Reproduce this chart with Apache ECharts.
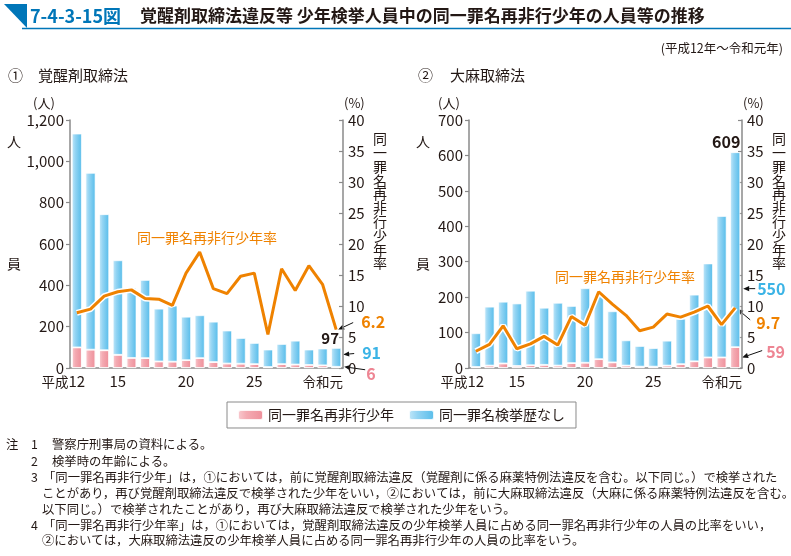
<!DOCTYPE html>
<html><head><meta charset="utf-8">
<script src="https://cdn.jsdelivr.net/npm/echarts@6/dist/echarts.min.js"></script>
<style>html,body{margin:0;padding:0;background:#fff}#c{width:791px;height:556px}</style>
</head><body><div id="c"></div>
<script>
const years = ['平成12','13','14','15','16','17','18','19','20','21','22','23','24','25','26','27','28','29','30','令和元'];
const shownTicks = [0, 3, 8, 13, 19];
// ① 覚醒剤取締法
const stimPink = [100, 89, 86, 64, 49, 48, 32, 31, 38, 48, 29, 22, 21, 19, 5, 19, 17, 15, 13, 6];
const stimBlue = [1034, 855, 658, 457, 338, 378, 255, 271, 210, 207, 195, 159, 124, 102, 84, 97, 115, 74, 81, 91];
const stimRate = [8.9, 9.5, 11.6, 12.3, 12.6, 11.2, 11.1, 10.1, 15.3, 18.7, 12.8, 12.0, 14.8, 15.3, 5.4, 16.0, 12.5, 16.5, 13.5, 6.2];
// ② 大麻取締法
const canPink = [3, 7, 13, 6, 8, 9, 7, 14, 15, 25, 16, 7, 4, 4, 7, 11, 19, 30, 30, 59];
const canBlue = [95, 166, 174, 176, 210, 161, 177, 161, 210, 182, 144, 71, 58, 52, 70, 128, 188, 265, 399, 550];
const canRate = [2.7, 3.8, 6.8, 3.1, 3.9, 5.1, 3.7, 8.3, 6.9, 12.3, 10.3, 8.5, 6.0, 6.6, 8.7, 8.2, 9.0, 10.0, 7.0, 9.7];

const FONT = '"Noto Sans CJK JP","Noto Sans",sans-serif';
const TXT = '#231815';
const AX = '#8a8a8a';
const ORANGE = '#ef8200';
const BLUE_T = '#3cb4e6';
const PINK_T = '#ee8593';
const names = ['同一罪名再非行少年', '同一罪名検挙歴なし'];

const blueGrad = new echarts.graphic.LinearGradient(0, 0, 1, 0, [
  {offset: 0, color: '#c4e8f9'}, {offset: 0.35, color: '#93d4f3'}, {offset: 1, color: '#55bcea'}]);
const pinkGrad = new echarts.graphic.LinearGradient(0, 0, 1, 0, [
  {offset: 0, color: '#f9cdd2'}, {offset: 0.35, color: '#f4aab2'}, {offset: 1, color: '#ee8e99'}]);

function xAxisDef(gi) {
  return {
    type: 'category', gridIndex: gi, data: years,
    axisLine: {lineStyle: {color: AX, width: 1.5}},
    axisTick: {show: false},
    axisLabel: {
      interval: (i) => shownTicks.includes(i), margin: 6, color: TXT,
      fontFamily: FONT, fontSize: 15,
      formatter: (v, i) => {
        if (i === 0) return '{k|平成}{n|12}{s|}';
        if (i === 19) return '{k|令和元}{t|}';
        return '{n|' + v + '}';
      },
      rich: {
        k: {fontFamily: FONT, fontSize: 13.5, color: TXT},
        n: {fontFamily: FONT, fontSize: 15, color: TXT},
        s: {width: 27},
        t: {width: 27}
      }
    }
  };
}
function countAxis(gi, max, interval) {
  return {
    type: 'value', gridIndex: gi, min: 0, max: max, interval: interval, position: 'left',
    axisLine: {show: true, lineStyle: {color: AX, width: 1.5}},
    axisTick: {show: true, length: 4, lineStyle: {color: AX, width: 1.2}},
    splitLine: {show: false},
    axisLabel: {color: TXT, fontFamily: FONT, fontSize: 15, margin: 6}
  };
}
function rateAxis(gi) {
  return {
    type: 'value', gridIndex: gi, min: 0, max: 40, interval: 5, position: 'right',
    axisLine: {show: true, lineStyle: {color: AX, width: 1.5}},
    axisTick: {show: true, inside: true, length: 4, lineStyle: {color: AX, width: 1.2}},
    splitLine: {show: false},
    axisLabel: {color: TXT, fontFamily: FONT, fontSize: 15, margin: 5}
  };
}
function barSeries(xi, yi, data, name, grad, totalLabel, off, fs) {
  return {
    type: 'bar', name: name, xAxisIndex: xi, yAxisIndex: yi, stack: 's' + xi, data: data,
    barWidth: 10,
    itemStyle: {color: grad, borderColor: 'rgba(255,255,255,0.85)', borderWidth: 0.8},
    label: totalLabel ? {
      show: true, position: 'top', offset: off, distance: 2,
      fontFamily: FONT, fontSize: fs, fontWeight: 'bold', color: TXT,
      formatter: (p) => p.dataIndex === data.length - 1 ? String(totalLabel[p.dataIndex] + data[p.dataIndex]) : ''
    } : {show: false},
    z: 2
  };
}
function lineSeries(xi, yi, data, halo) {
  return {
    type: 'line', xAxisIndex: xi, yAxisIndex: yi, data: data, showSymbol: false, silent: true,
    lineStyle: halo ? {color: '#ffffff', width: 6} : {color: ORANGE, width: 3},
    z: halo ? 3 : 4
  };
}

const chart = echarts.init(document.getElementById('c'), null, {renderer: 'canvas'});
const option = {
  animation: false,
  textStyle: {fontFamily: FONT},
  grid: [
    {left: 70, right: 448, top: 120, bottom: 188},
    {left: 469, right: 49, top: 120, bottom: 188}
  ],
  xAxis: [xAxisDef(0), xAxisDef(1)],
  yAxis: [countAxis(0, 1200, 200), rateAxis(0), countAxis(1, 700, 100), rateAxis(1)],
  legend: {
    data: names, left: 227, top: 402, orient: 'horizontal',
    itemWidth: 25, itemHeight: 10, itemGap: 14,
    padding: [6, 11, 6, 10], borderColor: '#8a8a8a', borderWidth: 1,
    textStyle: {fontFamily: FONT, fontSize: 14, color: TXT}
  },
  series: [
    barSeries(0, 0, stimPink, names[0], pinkGrad),
    barSeries(0, 0, stimBlue, names[1], blueGrad, stimPink, [-6, 0], 15),
    lineSeries(0, 1, stimRate, true),
    lineSeries(0, 1, stimRate, false),
    barSeries(1, 2, canPink, names[0], pinkGrad),
    barSeries(1, 2, canBlue, names[1], blueGrad, canPink, [-9, 0], 16),
    lineSeries(1, 3, canRate, true),
    lineSeries(1, 3, canRate, false)
  ]
};
chart.setOption(option);

function txt(x, y, s, o) {
  return Object.assign({type: 'text', x: x, y: y, style: Object.assign({
    text: s, fill: TXT, font: '14px ' + FONT, textAlign: 'left', textVerticalAlign: 'middle'}, o || {})});
}
function arrow(from, to) {
  const dx = to[0] - from[0], dy = to[1] - from[1];
  const L = Math.sqrt(dx * dx + dy * dy), ux = dx / L, uy = dy / L;
  const hl = 6, hw = 2.6;
  const bx = to[0] - ux * hl, by = to[1] - uy * hl;
  return [
    {type: 'line', shape: {x1: from[0], y1: from[1], x2: bx, y2: by}, style: {stroke: '#111', lineWidth: 1}},
    {type: 'polygon', shape: {points: [[to[0], to[1]], [bx - uy * hw, by + ux * hw], [bx + uy * hw, by - ux * hw]]}, style: {fill: '#111'}}
  ];
}
const last = years.length - 1;
const px = (xi, yi, v) => chart.convertToPixel({xAxisIndex: xi, yAxisIndex: yi}, [last, v]);

const g = [];
// title
g.push({type: 'polygon', shape: {points: [[4, 4], [27, 4], [27, 28]]}, style: {fill: '#0076b8'}});
g.push({type: 'line', shape: {x1: 22, y1: 28.5, x2: 791, y2: 28.5}, style: {stroke: '#0076b8', lineWidth: 1.5}});
g.push(txt(30, 16, '7-4-3-15図', {fill: '#0076b8', font: 'bold 18px ' + FONT}));
g.push(txt(140, 16, '覚醒剤取締法違反等 少年検挙人員中の同一罪名再非行少年の人員等の推移', {font: 'bold 17px ' + FONT}));
g.push(txt(783, 48, '(平成12年～令和元年)', {font: '12.5px ' + FONT, textAlign: 'right'}));
g.push(txt(8, 75, '①', {font: '15px ' + FONT}));
g.push(txt(38, 75, '覚醒剤取締法', {font: '15px ' + FONT}));
g.push(txt(418, 75, '②', {font: '15px ' + FONT}));
g.push(txt(450, 75, '大麻取締法', {font: '15px ' + FONT}));
// axis captions
const vert = '同一罪名再非行少年率'.split('').join('\n');
[[0, 33, 344, 380, 7], [1, 438, 743, 779, 416]].forEach(([k, lx, rx, vx, hx]) => {
  g.push(txt(lx, 103, '(人)', {font: '13px ' + FONT}));
  g.push(txt(rx, 103, '(%)', {font: '13px ' + FONT}));
  g.push(txt(hx, 142, '人', {font: '14px ' + FONT}));
  g.push(txt(hx, 264, '員', {font: '14px ' + FONT}));
  g.push({type: 'text', x: vx, y: 132, style: {text: vert, fill: TXT, font: '14px ' + FONT, textAlign: 'center', textVerticalAlign: 'top', lineHeight: 13.8}});
});
g.push(txt(137, 238, '同一罪名再非行少年率', {fill: ORANGE, font: '14px ' + FONT}));
g.push(txt(555, 277, '同一罪名再非行少年率', {fill: ORANGE, font: '14px ' + FONT}));

// left annotations
{
  const pr = px(0, 1, stimRate[last]);
  g.push(...arrow([pr[0] + 17, pr[1] - 7], [pr[0] + 2, pr[1]]));
  g.push(txt(pr[0] + 25, pr[1] - 8, String(stimRate[last]), {fill: ORANGE, font: 'bold 16px ' + FONT}));
  const pb = px(0, 0, stimPink[last] + stimBlue[last] * 0.65);
  g.push(...arrow([pb[0] + 18, pb[1] - 1], [pb[0] + 7, pb[1]]));
  g.push(txt(pb[0] + 26, pb[1] - 2, String(stimBlue[last]), {fill: BLUE_T, font: 'bold 16px ' + FONT}));
  const pp = px(0, 0, stimPink[last]);
  g.push(...arrow([pp[0] + 29, pp[1] + 3], [pp[0] + 8, pp[1]]));
  g.push(txt(pp[0] + 30, pp[1] + 7, String(stimPink[last]), {fill: PINK_T, font: 'bold 16px ' + FONT}));
}
// right annotations
{
  const pb = px(1, 2, canPink[last] + canBlue[last] * 0.3);
  g.push(...arrow([pb[0] + 20, pb[1]], [pb[0] + 8, pb[1]]));
  g.push(txt(pb[0] + 22, pb[1], String(canBlue[last]), {fill: BLUE_T, font: 'bold 16px ' + FONT}));
  const pr = px(1, 3, canRate[last]);
  g.push(...arrow([pr[0] + 15, pr[1] + 12], [pr[0] + 2, pr[1] + 1]));
  g.push(txt(pr[0] + 21, pr[1] + 15, String(canRate[last]), {fill: ORANGE, font: 'bold 16px ' + FONT}));
  const pp = px(1, 2, canPink[last] / 2);
  g.push(...arrow([pp[0] + 27, pp[1] - 7], [pp[0] + 7, pp[1]]));
  g.push(txt(pp[0] + 31, pp[1] - 6, String(canPink[last]), {fill: PINK_T, font: 'bold 16px ' + FONT}));
}
// notes
const NF = '12.35px ' + FONT;
g.push(txt(6, 444, '注', {font: NF}));
[['1', 444], ['2', 461], ['3', 477], ['4', 525]].forEach(([n, y]) => g.push(txt(31, y, n, {font: NF})));
g.push(txt(52, 444, '警察庁刑事局の資料による。', {font: NF}));
g.push(txt(52, 461, '検挙時の年齢による。', {font: NF}));
g.push(txt(43, 477, '「同一罪名再非行少年」は，①においては，前に覚醒剤取締法違反（覚醒剤に係る麻薬特例法違反を含む。以下同じ。）で検挙された', {font: NF}));
g.push(txt(42, 493, 'ことがあり，再び覚醒剤取締法違反で検挙された少年をいい，②においては，前に大麻取締法違反（大麻に係る麻薬特例法違反を含む。', {font: NF}));
g.push(txt(42, 509, '以下同じ。）で検挙されたことがあり，再び大麻取締法違反で検挙された少年をいう。', {font: NF}));
g.push(txt(43, 525, '「同一罪名再非行少年率」は，①においては，覚醒剤取締法違反の少年検挙人員に占める同一罪名再非行少年の人員の比率をいい，', {font: NF}));
g.push(txt(42, 540, '②においては，大麻取締法違反の少年検挙人員に占める同一罪名再非行少年の人員の比率をいう。', {font: NF}));

chart.setOption({graphic: g});
</script></body></html>
